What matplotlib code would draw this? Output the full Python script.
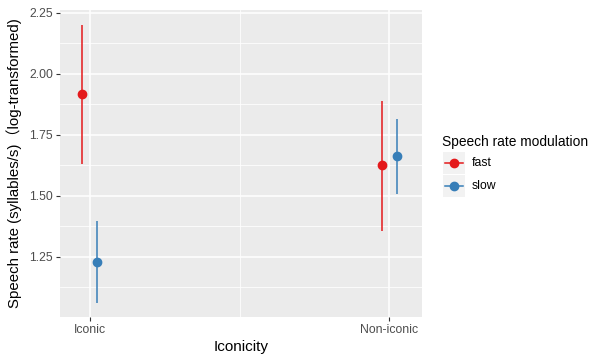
import matplotlib.pyplot as plt
from matplotlib.lines import Line2D
from matplotlib.patches import Rectangle

plt.rcParams['font.family'] = ['Liberation Sans', 'Noto Sans CJK SC', 'DejaVu Sans']

# model estimates with 95% intervals
iconicity = ['Iconic', 'Non-iconic']
modulation = ['fast', 'slow']
colors = {'fast': '#E41A1C', 'slow': '#377EB8'}
est = {'fast': [1.918, 1.626], 'slow': [1.228, 1.663]}
lower = {'fast': [1.631, 1.358], 'slow': [1.060, 1.508]}
upper = {'fast': [2.200, 1.891], 'slow': [1.399, 1.814]}
dodge = {'fast': -0.025, 'slow': 0.025}

fig = plt.figure(figsize=(5.89, 3.54), dpi=100)
ax = fig.add_axes([0.1019, 0.1045, 0.6146, 0.8673])
ax.set_facecolor('#EBEBEB')

for m in modulation:
    xs = [i + 1 + dodge[m] for i in range(len(iconicity))]
    for x, lo, hi in zip(xs, lower[m], upper[m]):
        ax.plot([x, x], [lo, hi], color=colors[m], lw=1.1, solid_capstyle='butt', zorder=3)
    ax.plot(xs, est[m], 'o', color=colors[m], ms=6, zorder=4)

ax.set_xlim(0.9, 2.11)
ax.set_ylim(1.004, 2.262)
ax.set_xticks([1, 2])
ax.set_xticklabels(iconicity)
ax.set_yticks([1.25, 1.5, 1.75, 2.0, 2.25])
ax.set_yticklabels(['1.25', '1.50', '1.75', '2.00', '2.25'])
ax.set_xticks([1.5], minor=True)
ax.set_yticks([1.125, 1.375, 1.625, 1.875, 2.125], minor=True)
ax.grid(True, which='major', color='white', lw=1.1)
ax.grid(True, which='minor', color='white', lw=0.55)
ax.set_axisbelow(True)
for s in ax.spines.values():
    s.set_visible(False)
ax.tick_params(which='major', length=3, color='#333333', labelsize=8.8, labelcolor='#4D4D4D', pad=2)
ax.tick_params(which='minor', length=0)

ax.set_xlabel('Iconicity', fontsize=11, labelpad=3)
ax.set_ylabel('Speech rate (syllables/s)（log-transformed)', fontsize=10.8, labelpad=5)

# legend drawn by hand
fig.text(442 / 589, 1 - 142 / 354, 'Speech rate modulation', fontsize=9.9, va='center', ha='left')
for k, m in enumerate(modulation):
    yc = 163 + k * 23
    fig.patches.append(Rectangle((443 / 589, 1 - (yc + 11) / 354), 22 / 589, 22 / 354,
                                 transform=fig.transFigure, facecolor='#F2F2F2', edgecolor='none'))
    fig.lines.append(Line2D([445 / 589, 463 / 589], [1 - yc / 354] * 2, transform=fig.transFigure,
                            color=colors[m], lw=1.1))
    fig.lines.append(Line2D([454 / 589], [1 - yc / 354], transform=fig.transFigure,
                            marker='o', color=colors[m], ms=6))
    fig.text(472 / 589, 1 - yc / 354, m, fontsize=8.8, va='center', ha='left')

fig.savefig('out.png', dpi=100)
